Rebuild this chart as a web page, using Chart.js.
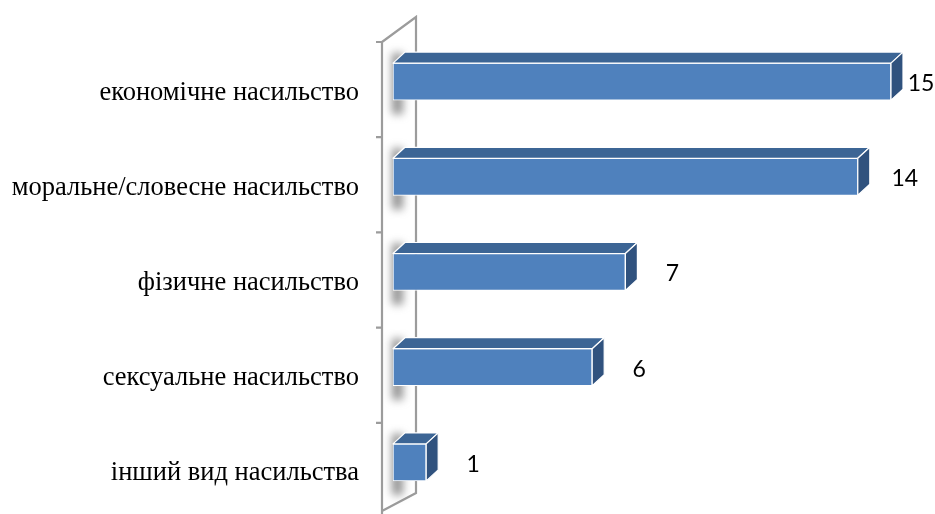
<!DOCTYPE html>
<html>
<head>
<meta charset="utf-8">
<script src="https://cdn.jsdelivr.net/npm/chart.js@4"></script>
<style>
	body { margin: 0; background: #ffffff; }
	#wrap { width: 935px; height: 514px; }
</style>
</head>
<body>
<div id="wrap"><canvas id="violenceChart"></canvas></div>
<script>
//VIOLENCE TYPES
//Count per type

const violenceCategories = [
	"економічне насильство",
	"моральне/словесне насильство",
	"фізичне насильство",
	"сексуальне насильство",
	"інший вид насильства",
];
const violenceCounts = [15, 14, 7, 6, 1];
const valueAxisRange = [0, 15];

const frontColor = "#4f81bd";
const topColor = "#3c6595";
const sideColor = "#30527e";
const depthX = 12;
const depthY = 11;

// back wall of the 3d plot + shadow behind each bar
const wallPlugin = {
	id: "wall",
	beforeDatasetsDraw(chart) {
		const ctx = chart.ctx;
		const area = chart.chartArea;
		const step = (area.bottom - area.top) / violenceCategories.length;
		const fx = area.left - 11;
		const bx = fx + 34;
		ctx.save();
		ctx.strokeStyle = "#9c9c9c";
		ctx.lineWidth = 2.2;
		ctx.beginPath();
		ctx.moveTo(fx, area.top + 8);
		ctx.lineTo(fx, chart.height);
		ctx.moveTo(fx, area.top + 8);
		ctx.lineTo(bx, area.top - 17);
		ctx.lineTo(bx, area.bottom - 17);
		ctx.lineTo(fx, area.bottom + 1);
		for (let i = 0; i < violenceCategories.length; i++) {
			const ty = area.top + 8 + i * step;
			ctx.moveTo(fx - 6, ty);
			ctx.lineTo(fx, ty);
		}
		ctx.stroke();

		// soft shadow on the wall
		ctx.filter = "blur(4px)";
		ctx.fillStyle = "rgba(100,100,100,0.7)";
		chart.getDatasetMeta(0).data.forEach((bar) => {
			const top = bar.y - bar.height / 2;
			ctx.fillRect(bar.base - 1, top - 10, 11, bar.height + 24);
		});
		ctx.restore();
	},
	afterDatasetsDraw(chart) {
		const ctx = chart.ctx;
		const meta = chart.getDatasetMeta(0);
		ctx.save();
		ctx.strokeStyle = "#ffffff";
		ctx.lineWidth = 1.2;
		ctx.lineJoin = "round";
		meta.data.forEach((bar, i) => {
			const top = bar.y - bar.height / 2;
			const bottom = bar.y + bar.height / 2;
			// top face
			ctx.fillStyle = topColor;
			ctx.beginPath();
			ctx.moveTo(bar.base, top);
			ctx.lineTo(bar.x, top);
			ctx.lineTo(bar.x + depthX, top - depthY);
			ctx.lineTo(bar.base + depthX, top - depthY);
			ctx.closePath();
			ctx.fill();
			ctx.stroke();
			// side face
			ctx.fillStyle = sideColor;
			ctx.beginPath();
			ctx.moveTo(bar.x, top);
			ctx.lineTo(bar.x + depthX, top - depthY);
			ctx.lineTo(bar.x + depthX, bottom - depthY);
			ctx.lineTo(bar.x, bottom);
			ctx.closePath();
			ctx.fill();
			ctx.stroke();

			// value label
			ctx.fillStyle = "#000000";
			ctx.font = "23px Lato";
			ctx.textAlign = "center";
			ctx.textBaseline = "middle";
			const lx = Math.min(bar.x + 47, chart.width - 14);
			ctx.fillText(String(violenceCounts[i]), lx, bar.y + 2);
		});
		ctx.restore();
	},
};

const violenceData = {
	labels: violenceCategories,
	datasets: [
		{
			label: "Кількість",
			backgroundColor: frontColor,
			borderColor: "#ffffff",
			borderWidth: 1,
			borderSkipped: false,
			barThickness: 37,
			data: violenceCounts,
		},
	],
};

const violenceConfig = {
	type: "bar",
	data: violenceData,
	plugins: [wallPlugin],
	options: {
		indexAxis: "y",
		responsive: true,
		maintainAspectRatio: false,
		animation: false,
		layout: {
			padding: { top: 34, right: 44, bottom: 4, left: 0 },
		},
		plugins: {
			legend: { display: false },
			tooltip: { enabled: false },
		},
		scales: {
			x: {
				display: false,
				min: valueAxisRange[0],
				max: valueAxisRange[1],
			},
			y: {
				afterFit(scale) {
					scale.width = 393;
					scale.paddingTop = 0;
					scale.paddingBottom = 0;
				},
				grid: { display: false, drawTicks: false },
				border: { display: false },
				ticks: {
					padding: 34,
					labelOffset: 11,
					color: "#000000",
					font: { family: "Liberation Serif", size: 26.5 },
				},
			},
		},
	},
};

const ViolenceChart = new Chart(
	document.getElementById("violenceChart"),
	violenceConfig
);
</script>
</body>
</html>
